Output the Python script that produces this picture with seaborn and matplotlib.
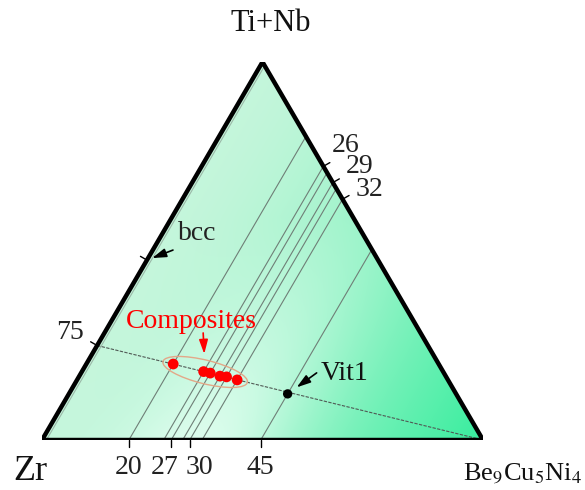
import numpy as np
import pandas as pd
import seaborn as sns
import matplotlib.pyplot as plt
from matplotlib.patches import Polygon, Ellipse

# pseudo-ternary Zr - (Ti+Nb) - Be9Cu5Ni4, read off the picture as fractions
# b = Be9Cu5Ni4 fraction, t = Ti+Nb fraction
comp_b = [0.197, 0.276, 0.293, 0.319, 0.335, 0.363]
comp_t = [0.201, 0.181, 0.177, 0.169, 0.167, 0.159]
vit1_b = [0.496]
vit1_t = [0.122]
bcc_b = 0.010                       # thin bcc boundary next to the Zr-(Ti+Nb) edge
ratio_t = 0.25                      # Zr:(Ti+Nb) = 75:25 line

bottom_ticks = [0.197, 0.293, 0.335, 0.496]
bottom_labels = ['20', '27', '30', '45']
right_ticks = [0.276, 0.319, 0.363]
right_labels = ['26', '29', '32']
left_ticks = [0.25, 0.476]
left_labels = ['75', '']

H = np.sqrt(3) / 2


def xy(b, t):
    b = np.asarray(b, dtype=float)
    t = np.asarray(t, dtype=float)
    return b + t / 2, t * H


sns.set_theme(style='white')
plt.rcParams['font.family'] = ['Liberation Serif', 'DejaVu Serif']
plt.rcParams['mathtext.fontset'] = 'stix'

fig = plt.figure(figsize=(5.85, 4.9), dpi=100)
ax = fig.add_axes([42 / 585, 50 / 490, 441 / 585, 378 / 490])

# gradient fill
gx, gy = np.meshgrid(np.linspace(0, 1, 400), np.linspace(0, H, 350))
gt = gy / H
gb = gx - gt / 2
mint = np.array([0.77, 0.965, 0.86])
green = np.array([0.22, 0.93, 0.62])
white = np.array([0.92, 1.0, 0.96])
k = np.clip(gb, 0, 1)[..., None] ** 1.5
base = mint * (1 - k) + green * k
w = (np.exp(-((gb - 0.36) / 0.2) ** 2) * np.clip(1 - 1.7 * gt, 0, 1) * 0.8)[..., None]
img = np.clip(base * (1 - w) + white * w, 0, 1)
im = ax.imshow(img, extent=(0, 1, 0, H), origin='lower', aspect='auto', zorder=0)
tri = Polygon([(0, 0), (1, 0), (0.5, H)], closed=True, facecolor='none',
              edgecolor='black', lw=3.2, joinstyle='miter', zorder=6)
ax.add_patch(tri)
im.set_clip_path(tri)

ax.set_xlim(0, 1)
ax.set_ylim(0, H)
ax.axis('off')

# constant Be9Cu5Ni4 lines through each alloy
for b in comp_b + vit1_b:
    x, y = xy([b, b], [0, 1 - b])
    ax.plot(x, y, color='#6f7f77', lw=0.8, zorder=2)
x, y = xy([bcc_b, bcc_b], [0, 1 - bcc_b])
ax.plot(x, y, color='#9bb8a8', lw=0.8, zorder=2)

# Zr:(Ti+Nb) = 75:25 line
line = pd.DataFrame({'b': [0.0, 1.0], 't': [ratio_t, 0.0]})
lx, ly = xy(line.b, line.t)
sns.lineplot(x=lx, y=ly, ax=ax, color='#505a55', lw=0.8,
             estimator=None, sort=False, zorder=3)
ax.lines[-1].set_dashes((3, 1.2))

# points
cx, cy = xy(comp_b, comp_t)
vx, vy = xy(vit1_b, vit1_t)
sns.scatterplot(x=cx, y=cy, ax=ax, color='#ff0000', s=60, edgecolor='none', zorder=5)
sns.scatterplot(x=vx, y=vy, ax=ax, color='black', s=45, edgecolor='none', zorder=5)

# ellipse round the composites
ex, ey = (cx[0] + cx[-1]) / 2, (cy[0] + cy[-1]) / 2
ang = np.degrees(np.arctan2(cy[-1] - cy[0], cx[-1] - cx[0]))
span = np.hypot(cx[-1] - cx[0], cy[-1] - cy[0])
ax.add_patch(Ellipse((ex, ey), span * 1.32, 0.054, angle=ang, facecolor='none',
                     edgecolor='#e3a888', lw=1.0, zorder=4))

tick_len = 0.017
# bottom ticks
for b, lab in zip(bottom_ticks, bottom_labels):
    ax.plot([b, b], [0, -tick_len], color='black', lw=1, clip_on=False)
dx_bottom = {'20': 0, '27': -7, '30': 10, '45': 0}
for b, lab in zip(bottom_ticks, bottom_labels):
    ax.annotate(lab, (b, 0), xytext=(dx_bottom[lab], -27), textcoords='offset pixels',
                ha='center', va='center', fontsize=20, color='#222222')

# right ticks
rdir = np.array([0.866, 0.5]) * tick_len
r_off = [(2, 17), (6, 12), (7, 6)]
for b, lab, off in zip(right_ticks, right_labels, r_off):
    x0, y0 = xy(b, 1 - b)
    ax.plot([x0, x0 + rdir[0]], [y0, y0 + rdir[1]], color='black', lw=1, clip_on=False)
    ax.annotate(lab, (x0 + rdir[0], y0 + rdir[1]), xytext=off, textcoords='offset pixels',
                ha='left', va='center', fontsize=20, color='#222222')

# left ticks
ldir = np.array([-0.866, 0.5]) * tick_len
for t, lab in zip(left_ticks, left_labels):
    x0, y0 = xy(0, t)
    ax.plot([x0, x0 + ldir[0]], [y0, y0 + ldir[1]], color='black', lw=1, clip_on=False)
    if lab:
        ax.annotate(lab, (x0 + ldir[0], y0 + ldir[1]), xytext=(-7, 9), textcoords='offset pixels',
                    ha='right', va='center', fontsize=20, color='#222222')

# vertex labels
ax.annotate('Ti+Nb', (0.5, H), xytext=(8, 38), textcoords='offset pixels',
            ha='center', va='center', fontsize=22, color='#111111')
ax.annotate('Zr', (0, 0), xytext=(-12, -48), textcoords='offset pixels',
            ha='center', va='bottom', fontsize=26, color='#111111')
ax.annotate(r'Be$_9$Cu$_5$Ni$_4$', (1, 0), xytext=(40, -33), textcoords='offset pixels',
            ha='center', va='center', fontsize=19, color='#111111')

arrow = dict(arrowstyle='-|>,head_length=0.7,head_width=0.22', lw=1.2, shrinkA=0)

# bcc
bx, by = xy(0, left_ticks[1])
ax.annotate('', (bx, by), xytext=(26, 10), textcoords='offset pixels',
            arrowprops=dict(arrow, color='black', shrinkB=4))
ax.annotate('bcc', (bx, by), xytext=(50, 27), textcoords='offset pixels',
            ha='center', va='center', fontsize=20, color='#222222')

# Vit1
ax.annotate('', (vx[0], vy[0]), xytext=(29, 21), textcoords='offset pixels',
            arrowprops=dict(arrow, color='black', shrinkB=8))
ax.annotate('Vit1', (vx[0], vy[0]), xytext=(57, 20), textcoords='offset pixels',
            ha='center', va='center', fontsize=20, color='#111111')

# Composites
ax.annotate('', (ex, ey), xytext=(-2, 39), textcoords='offset pixels',
            arrowprops=dict(arrow, color='#ff0000', shrinkB=13))
ax.annotate('Composites', (ex, ey), xytext=(-14, 50), textcoords='offset pixels',
            ha='center', va='center', fontsize=20, color='#ff0000')

fig.savefig('out.png', dpi=100)
